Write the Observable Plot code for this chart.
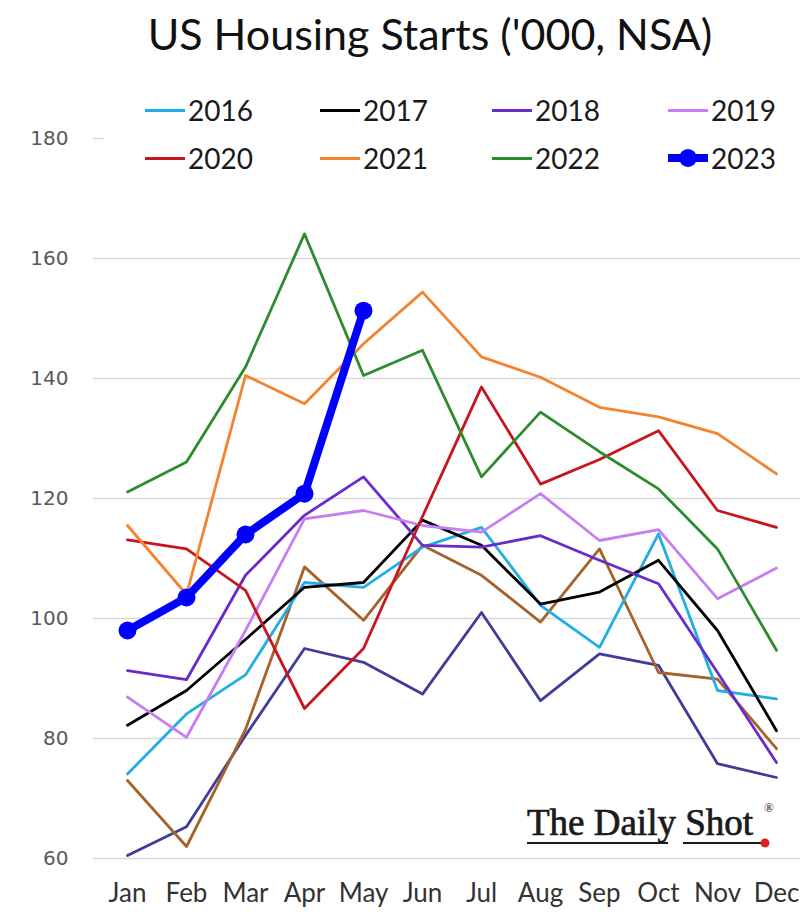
<!DOCTYPE html>
<html>
<head>
<meta charset="utf-8">
<script src="https://cdn.jsdelivr.net/npm/d3@7"></script>
<script src="https://cdn.jsdelivr.net/npm/@observablehq/plot@0.6"></script>
<style>
  body { margin: 0; background: #fff; }
  #wrap { position: relative; width: 800px; height: 914px; overflow: hidden; font-family: Lato, "Open Sans", sans-serif; }
  #title { height: 62px; line-height: 68px; text-align: center; font-size: 43px; color: #111; padding-left: 60px; white-space: nowrap; }
  #legend { position: absolute; left: 104px; top: 86px; width: 696px; height: 98px; background: #fff; }
  .item { position: absolute; height: 40px; display: flex; align-items: center; font-size: 28px; color: #1a1a1a; }
  .swatch { position: relative; width: 40px; height: 3px; margin-right: 3px; }
  .swatch.big { height: 8px; }
  .swatch.big::after { content: ""; position: absolute; left: 11px; top: -5px; width: 18px; height: 18px; border-radius: 50%; background: #0000ff; }
  #logo { position: absolute; left: 520px; top: 796px; }
</style>
</head>
<body>
<div id="wrap">
  <div id="title">US Housing Starts ('000, NSA)</div>
  <div id="chart"></div>
  <div id="legend"></div>
  <svg id="logo" width="275" height="60" viewBox="0 0 275 60">
    <text x="7" y="39" font-family="Liberation Serif, DejaVu Serif, serif" font-size="37" fill="#1a1a1a" stroke="#1a1a1a" stroke-width="0.7" textLength="226" lengthAdjust="spacingAndGlyphs">The Daily Shot</text>
    <text x="244" y="16" font-family="Liberation Serif, serif" font-size="13" fill="#1a1a1a">®</text>
    <line x1="7" x2="148" y1="47" y2="47" stroke="#1a1a1a" stroke-width="2"/>
    <line x1="163" x2="242" y1="47" y2="47" stroke="#1a1a1a" stroke-width="2"/>
    <circle cx="245" cy="47" r="4.5" fill="#e0201b"/>
  </svg>
</div>
<script>
// Months on the category axis
const months = ["Jan", "Feb", "Mar", "Apr", "May", "Jun", "Jul", "Aug", "Sep", "Oct", "Nov", "Dec"];
const yTicks = [60, 80, 100, 120, 140, 160, 180];

// Monthly housing starts, thousands of units, not seasonally adjusted
const y2014 = [60.5, 65.3, 80.5, 95.0, 92.7, 87.4, 101.0, 86.3, 94.1, 92.2, 75.8, 73.5];
const y2015 = [73.0, 62.0, 81.5, 108.6, 99.7, 112.2, 107.2, 99.4, 111.6, 91.0, 89.9, 78.3];
const y2016 = [74.1, 84.1, 90.6, 106.0, 105.2, 111.9, 115.2, 102.2, 95.2, 114.1, 88.0, 86.6];
const y2017 = [82.2, 88.0, 96.5, 105.2, 106.0, 116.4, 112.2, 102.4, 104.4, 109.7, 98.0, 81.3];
const y2018 = [91.3, 89.8, 107.2, 117.2, 123.6, 112.2, 111.9, 113.8, 109.7, 105.8, 91.0, 76.0];
const y2019 = [86.9, 80.2, 98.0, 116.6, 118.0, 115.5, 114.4, 120.8, 113.0, 114.8, 103.3, 108.4];
const y2020 = [113.1, 111.6, 104.7, 85.0, 95.0, 117.0, 138.6, 122.4, 126.5, 131.3, 118.0, 115.2];
const y2021 = [115.5, 104.0, 140.5, 135.8, 145.8, 154.4, 143.6, 140.2, 135.2, 133.6, 130.8, 124.1];
const y2022 = [121.1, 126.1, 141.9, 164.1, 140.5, 144.7, 123.6, 134.4, 127.8, 121.6, 111.6, 94.7];
const y2023 = [98.0, 103.5, 114.0, 120.8, 151.3];

// Series names, in drawing order, and their colours
const seriesNames = ["2014", "2015", "2016", "2017", "2018", "2019", "2020", "2021", "2022", "2023"];
const seriesValues = [y2014, y2015, y2016, y2017, y2018, y2019, y2020, y2021, y2022, y2023];
const seriesColors = ["#3f3d99", "#a5622b", "#22aee4", "#000000", "#6a2bcb", "#c77df3", "#c8161d", "#f3832f", "#2e8b2e", "#0000ff"];
const legendNames = ["2016", "2017", "2018", "2019", "2020", "2021", "2022", "2023"];

// Long-format table for Plot
const rows = seriesNames.flatMap((name, i) =>
  seriesValues[i].map((value, j) => ({year: name, month: months[j], value}))
);
const past = rows.filter(d => d.year !== "2023");
const current = rows.filter(d => d.year === "2023");

const chart = Plot.plot({
  width: 800,
  height: 852,
  marginLeft: 93,
  marginRight: 0,
  marginTop: 76,
  marginBottom: 56,
  style: {background: "transparent", fontFamily: "Lato, sans-serif"},
  x: {type: "point", domain: months, range: [123, 780], padding: 0},
  y: {domain: [60, 180]},
  color: {domain: seriesNames, range: seriesColors},
  marks: [
    Plot.gridY(yTicks, {stroke: "#d9d9d9", strokeOpacity: 1, strokeWidth: 1.6}),
    Plot.axisY(yTicks, {tickSize: 0, tickPadding: 25, fontSize: 20, fill: "#595959", fontFamily: "DejaVu Sans", label: null}),
    Plot.axisX({tickSize: 0, tickPadding: 25, fontSize: 26, fill: "#333", label: null}),
    Plot.line(past, {x: "month", y: "value", z: "year", stroke: "year", strokeWidth: 2.8}),
    Plot.line(current, {x: "month", y: "value", stroke: "#0000ff", strokeWidth: 8}),
    Plot.dot(current, {x: "month", y: "value", r: 9, fill: "#0000ff"})
  ]
});
document.getElementById("chart").appendChild(chart);

// Legend: four columns, two rows
const legend = document.getElementById("legend");
const colLeft = [41, 216, 388, 564];
const rowTop = [4, 52];
legendNames.forEach((name, k) => {
  const item = document.createElement("div");
  item.className = "item";
  item.style.left = colLeft[k % 4] + "px";
  item.style.top = rowTop[Math.floor(k / 4)] + "px";
  const sw = document.createElement("span");
  sw.className = "swatch" + (name === "2023" ? " big" : "");
  sw.style.background = seriesColors[seriesNames.indexOf(name)];
  item.appendChild(sw);
  item.appendChild(document.createTextNode(name));
  legend.appendChild(item);
});
</script>
</body>
</html>
